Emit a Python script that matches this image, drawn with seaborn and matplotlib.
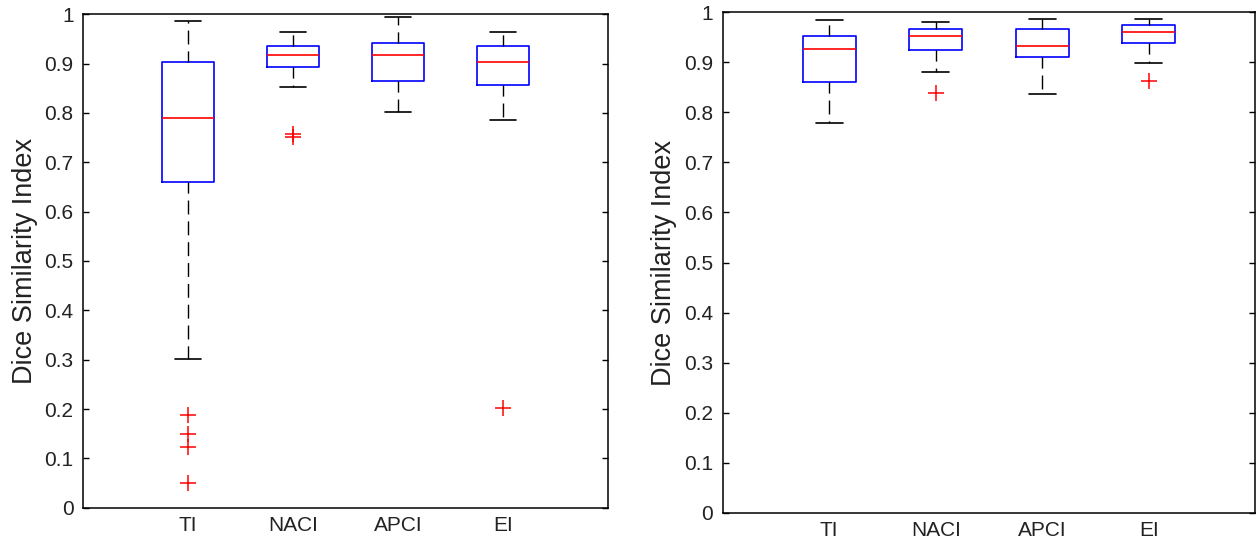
import matplotlib
matplotlib.use("Agg")
import matplotlib.pyplot as plt
import seaborn as sns

# ---- data ----
categories = ["TI", "NACI", "APCI", "EI"]
ytick_values = [0, 0.1, 0.2, 0.3, 0.4, 0.5, 0.6, 0.7, 0.8, 0.9, 1.0]
ytick_labels = ["0", "0.1", "0.2", "0.3", "0.4", "0.5", "0.6", "0.7", "0.8", "0.9", "1"]
ylabel_text = "Dice Similarity Index"

# left panel
left_whislo = [0.301, 0.852, 0.802, 0.785]
left_q1 = [0.661, 0.894, 0.864, 0.856]
left_med = [0.789, 0.918, 0.918, 0.904]
left_q3 = [0.904, 0.935, 0.942, 0.935]
left_whishi = [0.987, 0.965, 0.994, 0.965]
left_fliers = [[0.187, 0.150, 0.123, 0.051], [0.752, 0.757], [], [0.202]]

# right panel
right_whislo = [0.778, 0.881, 0.836, 0.898]
right_q1 = [0.861, 0.925, 0.911, 0.939]
right_med = [0.926, 0.953, 0.933, 0.960]
right_q3 = [0.953, 0.966, 0.966, 0.974]
right_whishi = [0.984, 0.980, 0.987, 0.987]
right_fliers = [[], [0.839], [], [0.863]]

sns.set_theme(style="white")
plt.rcParams["font.family"] = ["Liberation Sans", "DejaVu Sans"]


def make_stats(lo, q1, med, q3, hi, fl):
    return [dict(whislo=a, q1=b, med=c, q3=d, whishi=e, fliers=f, label=n)
            for a, b, c, d, e, f, n in zip(lo, q1, med, q3, hi, fl, categories)]


def draw(ax, stats):
    ax.bxp(stats, positions=[1, 2, 3, 4], widths=0.5, capwidths=0.25,
           showfliers=True, manage_ticks=False,
           boxprops=dict(color="#0000ff", linewidth=1.2),
           medianprops=dict(color="#ff0000", linewidth=1.2),
           whiskerprops=dict(color="black", linewidth=1.0, linestyle=(2, (10, 5))),
           capprops=dict(color="black", linewidth=1.2),
           flierprops=dict(marker="+", markeredgecolor="#ff0000", markersize=12,
                           markeredgewidth=1.1, linestyle="none"))
    ax.set_xlim(0, 5)
    ax.set_ylim(0, 1)
    ax.set_xticks([1, 2, 3, 4])
    ax.set_xticklabels(categories, fontsize=15, color="#222222")
    ax.set_yticks(ytick_values)
    ax.set_yticklabels(ytick_labels, fontsize=15, color="#222222")
    ax.tick_params(axis="x", length=0, pad=6)
    ax.tick_params(axis="y", direction="in", length=4.5, width=1.0, color="black",
                   left=True, right=True, pad=7)
    for sp in ax.spines.values():
        sp.set_color("black")
        sp.set_linewidth(1.1)
        sp.set_visible(True)
    ax.set_ylabel(ylabel_text, fontsize=19.5, color="#222222", labelpad=5)
    ax.grid(False)


fig = plt.figure(figsize=(12.57, 5.44), dpi=100)
ax1 = fig.add_axes([83.3 / 1257, (544 - 507.7) / 544, (607.7 - 83.3) / 1257, (507.7 - 14.3) / 544])
ax2 = fig.add_axes([722.7 / 1257, (544 - 512.7) / 544, (1255.3 - 722.7) / 1257, (512.7 - 12.3) / 544])

draw(ax1, make_stats(left_whislo, left_q1, left_med, left_q3, left_whishi, left_fliers))
draw(ax2, make_stats(right_whislo, right_q1, right_med, right_q3, right_whishi, right_fliers))

fig.savefig("out.png", dpi=100, facecolor="white")
